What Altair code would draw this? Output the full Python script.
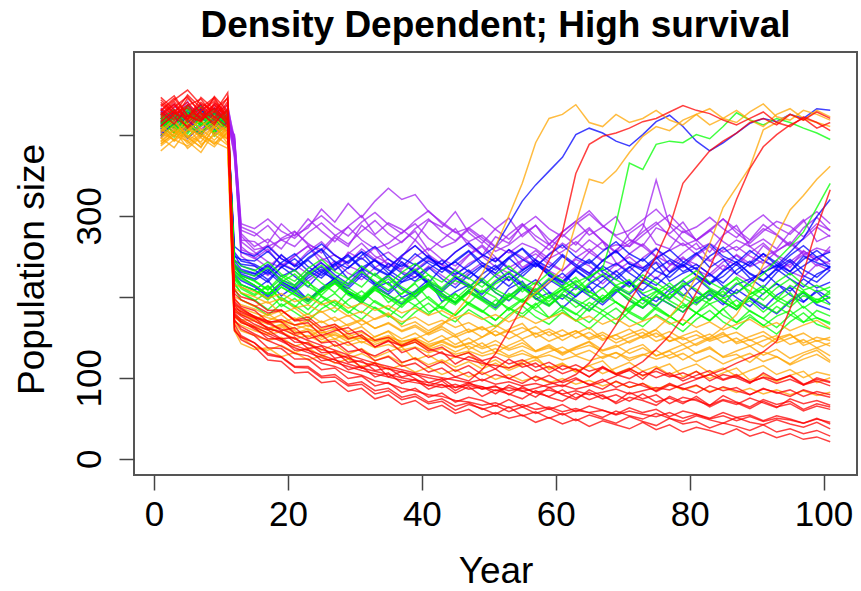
import altair as alt
import pandas as pd

FONT = "Liberation Sans, Arial, Helvetica, sans-serif"

# Sampled years (the drop happens between year 11 and 12; purple one year later)
YEARS = [1, 3, 5, 7, 9, 11, 12, 13] + list(range(15, 102, 2))

# ---------------- purple runs ----------------
P1 = [415, 428, 405, 420, 432, 410, 392, 262,
      248, 236, 251, 240, 228, 245, 252, 238, 231, 247,
      255, 242, 233, 246, 239, 226, 241, 250, 237, 229,
      244, 253, 240, 232, 246, 238, 225, 240, 249, 236,
      243, 231, 247, 240, 228, 243, 251, 237, 245, 233,
      240, 252, 238, 244]
P2 = [402, 418, 437, 425, 411, 426, 385, 270,
      268, 255, 272, 281, 264, 258, 275, 286, 270, 259,
      266, 279, 290, 272, 261, 268, 283, 270, 256, 264,
      277, 288, 271, 260, 273, 285, 268, 254, 266, 280,
      292, 275, 263, 270, 282, 268, 257, 269, 284, 276,
      262, 271, 286, 274]
P3 = [420, 409, 431, 415, 438, 418, 398, 275,
      258, 262, 270, 276, 285, 308, 292, 315, 298, 318,
      334, 320, 326, 305, 292, 280, 268, 276, 262, 254,
      266, 259, 247, 256, 268, 255, 244, 258, 270, 262,
      249, 257, 266, 252, 244, 258, 270, 262, 249, 257,
      266, 252, 260, 255]
P4 = [396, 414, 422, 407, 419, 430, 380, 250,
      238, 226, 241, 233, 219, 232, 244, 229, 221, 236,
      247, 231, 224, 238, 226, 215, 230, 242, 228, 220,
      234, 246, 232, 223, 237, 229, 216, 231, 243, 235,
      222, 238, 249, 233, 225, 239, 228, 218, 234, 245,
      231, 224, 240, 232]
P5 = [428, 416, 403, 426, 414, 421, 395, 282,
      275, 288, 270, 262, 279, 291, 276, 265, 281, 294,
      278, 267, 284, 296, 280, 269, 285, 273, 261, 277,
      290, 275, 264, 280, 293, 306, 288, 274, 262, 276,
      289, 301, 284, 270, 283, 296, 279, 266, 281, 293,
      287, 274, 290, 282]
P6 = [410, 435, 421, 398, 427, 412, 388, 258,
      252, 264, 247, 239, 256, 268, 251, 242, 259, 246,
      235, 250, 263, 248, 240, 255, 267, 252, 244, 258,
      249, 237, 253, 266, 255, 270, 258, 264, 262, 285,
      344, 288, 270, 258, 266, 255, 262, 250, 241, 256,
      268, 254, 245, 258]
P7 = [405, 419, 432, 416, 401, 424, 372, 268,
      255, 243, 236, 251, 262, 248, 237, 253, 266, 250,
      241, 234, 249, 260, 246, 238, 252, 264, 249, 236,
      245, 257, 243, 232, 248, 259, 245, 238, 253, 265,
      250, 241, 236, 251, 262, 247, 239, 254, 266, 251,
      243, 256, 248, 240]
P8 = [418, 407, 425, 436, 420, 408, 400, 290,
      284, 296, 281, 272, 288, 300, 286, 275, 292, 304,
      289, 278, 294, 306, 290, 279, 285, 297, 283, 271,
      287, 299, 284, 274, 290, 302, 287, 276, 282, 295,
      308, 291, 279, 286, 298, 284, 273, 289, 301, 286,
      277, 293, 305, 290]
P9 = [433, 419, 441, 410, 425, 437, 390, 278,
      262, 271, 259, 280, 266, 254, 273, 262, 288, 275,
      259, 268, 281, 257, 270, 284, 263, 251, 274, 266,
      289, 270, 258, 277, 264, 283, 269, 255, 278, 290,
      265, 259, 281, 270, 255, 276, 288, 262, 271, 259,
      280, 295, 268, 276]
P10 = [399, 412, 406, 427, 401, 415, 376, 255,
       247, 259, 238, 250, 263, 241, 232, 255, 246, 261,
       237, 249, 270, 252, 240, 233, 251, 262, 244, 258,
       236, 247, 265, 250, 238, 255, 268, 242, 231, 248,
       260, 239, 254, 266, 245, 233, 252, 241, 263, 250,
       236, 257, 244, 262]
P11 = [424, 438, 415, 429, 412, 433, 396, 286,
       279, 266, 290, 275, 296, 281, 268, 287, 300, 277,
       291, 283, 270, 294, 286, 305, 279, 266, 284, 297,
       274, 288, 265, 280, 293, 276, 286, 299, 271, 263,
       285, 278, 292, 269, 281, 296, 283, 270, 289, 277,
       264, 285, 298, 281]

# ---------------- blue runs ----------------
B1 = [412, 425, 408, 431, 417, 404, 238, 230,
      226, 238, 221, 214, 230, 242, 227, 216, 233, 245,
      229, 218, 224, 236, 222, 211, 227, 239, 225, 213,
      229, 241, 226, 217, 232, 220, 210, 225, 237, 223,
      214, 229, 240, 226, 215, 231, 243, 228, 219, 234,
      222, 212, 228, 236]
B2 = [398, 417, 429, 411, 422, 415, 250, 246,
      244, 256, 240, 232, 248, 259, 243, 235, 251, 262,
      246, 237, 253, 241, 230, 245, 257, 242, 233, 249,
      260, 245, 236, 252, 240, 229, 244, 256, 241, 232,
      247, 258, 243, 234, 250, 261, 246, 238, 253, 242,
      231, 246, 257, 244]
B3 = [421, 409, 436, 418, 426, 411, 232, 224,
      214, 202, 218, 209, 196, 211, 222, 207, 198, 213,
      225, 210, 200, 215, 204, 192, 208, 220, 205, 195,
      210, 221, 206, 197, 212, 201, 190, 205, 217, 203,
      194, 209, 220, 206, 196, 211, 199, 188, 204, 216,
      202, 193, 208, 198]
B4 = [407, 420, 413, 398, 428, 419, 252, 238,
      233, 221, 236, 247, 232, 223, 239, 250, 235, 226,
      241, 229, 219, 234, 245, 231, 222, 237, 248, 234,
      225, 240, 228, 218, 233, 244, 230, 221, 236, 247,
      232, 224, 239, 227, 217, 232, 243, 229, 220, 235,
      246, 233, 224, 238]
B5 = [416, 403, 424, 432, 409, 421, 228, 220,
      212, 200, 215, 205, 194, 209, 218, 204, 196, 211,
      202, 191, 206, 216, 201, 193, 207, 197, 186, 201,
      212, 198, 189, 203, 194, 183, 198, 209, 195, 186,
      200, 191, 181, 196, 207, 193, 184, 199, 189, 179,
      194, 205, 190, 184]
B6 = [426, 412, 405, 419, 433, 417, 262, 255,
      250, 262, 247, 238, 253, 265, 251, 241, 256, 244,
      236, 251, 263, 248, 240, 255, 266, 252, 243, 258,
      246, 237, 252, 264, 249, 241, 256, 268, 253, 244,
      259, 247, 238, 253, 265, 250, 242, 257, 245, 236,
      251, 263, 249, 255]
B7 = [409, 427, 418, 401, 414, 430, 240, 226,
      220, 231, 216, 207, 223, 234, 219, 210, 226, 214,
      203, 218, 230, 215, 206, 221, 233, 218, 209, 225,
      213, 202, 217, 229, 214, 205, 220, 232, 217, 208,
      224, 212, 201, 216, 228, 213, 204, 219, 231, 216,
      207, 222, 211, 218]
B8 = [400, 415, 427, 422, 406, 413, 245, 240,
      238, 228, 242, 253, 237, 226, 241, 252, 236, 245,
      233, 222, 238, 249, 234, 243, 231, 221, 236, 248,
      233, 242, 230, 219, 235, 246, 232, 241, 229, 218,
      234, 245, 231, 240, 228, 217, 233, 244, 230, 239,
      227, 238, 249, 236]
B9 = [430, 414, 422, 437, 408, 426, 244, 234,
      229, 218, 237, 225, 212, 230, 241, 222, 234, 215,
      227, 243, 229, 217, 236, 224, 211, 228, 239, 220,
      232, 245, 226, 214, 233, 221, 238, 227, 213, 231,
      242, 219, 229, 236, 216, 225, 240, 223, 211, 230,
      244, 226, 218, 233]
B10 = [403, 418, 395, 411, 424, 407, 226, 215,
       208, 220, 201, 213, 196, 209, 223, 205, 192, 211,
       218, 199, 207, 221, 194, 206, 215, 200, 189, 210,
       219, 197, 205, 186, 201, 213, 193, 207, 219, 196,
       188, 204, 214, 192, 203, 190, 209, 198, 185, 202,
       212, 194, 206, 191]
B11 = [419, 431, 410, 402, 427, 414, 255, 244,
       240, 231, 252, 237, 246, 258, 233, 244, 255, 236,
       227, 248, 239, 251, 234, 243, 256, 238, 229, 247,
       259, 241, 232, 250, 237, 226, 245, 257, 240, 235,
       249, 230, 242, 254, 236, 247, 228, 241, 253, 239,
       231, 250, 242, 236]
B_ESC1 = [407, 422, 415, 430, 418, 409, 240, 232,
          228, 240, 225, 233, 245, 230, 222, 236, 248, 234,
          226, 240, 231, 244, 236, 228, 238, 250, 262, 290,
          318, 338, 355, 372, 400, 408, 402, 392, 386, 400,
          416, 424, 410, 392, 380, 390, 402, 414, 420, 416,
          425, 420, 432, 430]
B_ESC2 = [413, 427, 405, 419, 432, 411, 236, 228,
          222, 234, 219, 210, 226, 237, 222, 213, 229, 217,
          206, 221, 232, 218, 209, 224, 214, 203, 218, 229,
          215, 206, 221, 211, 200, 215, 226, 212, 203, 218,
          208, 197, 212, 223, 209, 200, 215, 222, 230, 238,
          255, 272, 299, 320]

# ---------------- green runs ----------------
G1 = [413, 426, 404, 419, 431, 416, 228, 215,
      208, 196, 212, 203, 191, 206, 217, 202, 193, 209,
      198, 187, 203, 214, 199, 190, 205, 195, 184, 200,
      211, 197, 188, 203, 193, 182, 198, 209, 195, 186,
      201, 191, 181, 197, 208, 194, 185, 200, 190, 180,
      196, 207, 193, 199]
G2 = [405, 418, 433, 412, 424, 409, 240, 232,
      225, 236, 221, 212, 228, 239, 224, 215, 231, 219,
      208, 223, 234, 220, 211, 226, 216, 205, 220, 231,
      217, 208, 223, 213, 202, 217, 228, 214, 205, 220,
      210, 199, 214, 225, 211, 202, 217, 207, 196, 211,
      222, 208, 214, 205]
G3 = [424, 410, 397, 415, 428, 420, 215, 205,
      196, 184, 199, 189, 178, 193, 204, 190, 180, 195,
      185, 174, 189, 200, 186, 177, 192, 182, 171, 186,
      197, 183, 174, 189, 179, 168, 183, 194, 180, 171,
      186, 176, 165, 180, 191, 177, 168, 183, 173, 162,
      177, 188, 174, 168]
G4 = [417, 402, 420, 435, 411, 425, 232, 224,
      214, 203, 218, 228, 213, 202, 217, 207, 196, 211,
      222, 208, 199, 214, 204, 193, 208, 219, 205, 196,
      211, 201, 190, 205, 216, 202, 193, 208, 198, 187,
      202, 213, 199, 190, 205, 195, 184, 199, 210, 196,
      187, 202, 192, 200]
G5 = [408, 421, 414, 399, 426, 413, 222, 210,
      201, 213, 197, 187, 203, 192, 181, 196, 207, 193,
      184, 199, 189, 178, 193, 204, 190, 181, 196, 186,
      175, 190, 201, 187, 178, 193, 183, 172, 187, 198,
      184, 175, 190, 180, 170, 185, 196, 182, 173, 188,
      178, 168, 183, 176]
G6 = [419, 431, 407, 416, 402, 421, 245, 238,
      232, 243, 228, 219, 235, 246, 231, 222, 238, 226,
      215, 230, 241, 227, 218, 233, 223, 212, 227, 238,
      224, 215, 230, 220, 209, 224, 235, 221, 212, 227,
      217, 206, 221, 232, 218, 209, 224, 214, 203, 218,
      229, 215, 206, 212]
G7 = [411, 397, 418, 425, 409, 430, 210, 196,
      188, 177, 191, 181, 170, 185, 195, 182, 172, 187,
      177, 166, 181, 192, 178, 169, 184, 174, 163, 178,
      189, 175, 166, 181, 171, 160, 175, 186, 172, 163,
      178, 168, 157, 172, 183, 169, 160, 175, 165, 154,
      169, 180, 166, 160]
G8 = [426, 413, 401, 422, 418, 407, 236, 226,
      219, 208, 222, 233, 217, 206, 221, 211, 200, 215,
      226, 212, 203, 218, 208, 197, 212, 223, 209, 200,
      215, 205, 194, 209, 220, 206, 197, 212, 202, 191,
      206, 217, 203, 194, 209, 199, 188, 203, 214, 200,
      191, 206, 196, 204]
G9 = [409, 423, 436, 417, 404, 419, 226, 212,
      203, 214, 195, 206, 219, 200, 188, 207, 198, 212,
      193, 204, 216, 197, 185, 203, 192, 208, 199, 183,
      196, 210, 190, 201, 187, 198, 211, 193, 182, 199,
      189, 204, 192, 180, 197, 207, 188, 195, 181, 194,
      205, 186, 197, 190]
G10 = [398, 412, 427, 403, 416, 431, 238, 226,
       220, 209, 226, 214, 231, 217, 205, 222, 212, 229,
       215, 203, 218, 227, 208, 220, 213, 199, 216, 225,
       206, 218, 201, 213, 224, 207, 196, 214, 221, 204,
       211, 198, 217, 209, 195, 212, 222, 203, 210, 197,
       214, 205, 193, 208]
G11 = [421, 407, 415, 429, 398, 412, 218, 204,
       195, 206, 188, 198, 184, 201, 192, 180, 194, 186,
       175, 190, 199, 181, 188, 177, 193, 183, 171, 186,
       179, 192, 174, 184, 170, 187, 178, 166, 182, 173,
       188, 176, 165, 180, 171, 185, 168, 178, 164, 176,
       183, 169, 174, 166]
G_ESC1 = [416, 402, 427, 411, 420, 408, 222, 215,
          208, 198, 212, 202, 194, 207, 216, 203, 195, 208,
          199, 190, 204, 213, 200, 192, 205, 196, 188, 202,
          193, 205, 198, 210, 218, 225, 235, 290, 365, 357,
          388, 392, 390, 400, 395, 410, 427, 418, 412, 420,
          415, 408, 402, 394]
G_ESC2 = [420, 408, 431, 415, 403, 424, 230, 222,
          214, 203, 217, 207, 196, 210, 220, 206, 198, 212,
          202, 193, 207, 216, 203, 194, 208, 198, 190, 204,
          195, 186, 200, 209, 196, 188, 202, 193, 184, 198,
          207, 195, 186, 200, 191, 198, 205, 215, 228, 245,
          262, 280, 310, 340]

# ---------------- orange runs ----------------
O1 = [395, 408, 389, 401, 414, 398, 210, 205,
      200, 192, 198, 186, 190, 181, 187, 176, 182, 172,
      178, 169, 175, 165, 171, 162, 168, 159, 165, 156,
      162, 154, 160, 151, 158, 149, 156, 147, 154, 160,
      150, 157, 147, 153, 145, 151, 156, 146, 152, 143,
      149, 155, 145, 150]
O2 = [410, 392, 405, 418, 400, 387, 188, 182,
      176, 170, 178, 165, 171, 160, 166, 157, 163, 150,
      158, 148, 155, 144, 152, 141, 149, 138, 146, 136,
      143, 133, 141, 131, 138, 145, 134, 140, 130, 137,
      127, 134, 141, 130, 136, 126, 133, 139, 128, 135,
      124, 131, 137, 127]
O3 = [388, 402, 396, 385, 409, 394, 162, 150,
      138, 134, 140, 131, 137, 127, 133, 124, 130, 121,
      127, 118, 125, 116, 122, 113, 120, 111, 118, 109,
      116, 122, 112, 118, 108, 115, 105, 112, 119, 108,
      114, 104, 111, 117, 106, 112, 102, 109, 115, 104,
      110, 100, 107, 103]
O4 = [403, 416, 399, 391, 412, 405, 196, 190,
      185, 177, 183, 172, 179, 168, 175, 164, 171, 161,
      168, 158, 165, 155, 163, 153, 160, 150, 158, 148,
      156, 163, 152, 159, 149, 156, 146, 153, 160, 149,
      155, 145, 152, 158, 147, 154, 144, 151, 157, 146,
      153, 143, 150, 146]
O5 = [396, 384, 407, 399, 389, 402, 175, 168,
      162, 155, 163, 152, 158, 147, 154, 144, 150, 141,
      147, 138, 144, 135, 141, 132, 139, 130, 136, 127,
      134, 125, 132, 138, 128, 134, 124, 131, 121, 128,
      134, 124, 130, 120, 127, 117, 124, 130, 120, 126,
      116, 123, 129, 119]
O6 = [412, 398, 421, 407, 393, 410, 215, 212,
      206, 198, 204, 194, 200, 190, 196, 186, 192, 183,
      189, 180, 186, 177, 183, 174, 180, 172, 178, 169,
      176, 167, 174, 180, 170, 176, 166, 173, 163, 170,
      176, 166, 172, 162, 169, 159, 166, 172, 162, 168,
      158, 165, 171, 161]
O7 = [380, 394, 386, 399, 391, 383, 158, 142,
      135, 137, 126, 131, 122, 127, 118, 123, 114, 119,
      110, 116, 107, 113, 104, 110, 101, 107, 98, 104,
      96, 101, 94, 99, 92, 97, 90, 95, 88, 93,
      86, 92, 85, 90, 83, 88, 82, 87, 80, 85,
      79, 84, 78, 82]
O8 = [405, 419, 397, 410, 423, 401, 182, 178,
      172, 179, 168, 174, 163, 170, 160, 166, 172, 161,
      167, 157, 163, 153, 160, 150, 157, 163, 152, 158,
      148, 155, 145, 152, 158, 147, 153, 143, 150, 156,
      145, 151, 141, 148, 154, 143, 149, 139, 146, 152,
      141, 147, 137, 143]
O9 = [392, 406, 383, 397, 411, 389, 178, 172,
      170, 161, 166, 158, 150, 159, 148, 155, 143, 151,
      157, 141, 148, 137, 146, 152, 135, 143, 131, 140,
      147, 133, 139, 128, 137, 144, 130, 124, 135, 141,
      127, 133, 122, 131, 138, 125, 129, 119, 132, 126,
      117, 128, 134, 121]
O10 = [407, 393, 415, 402, 388, 409, 200, 196,
       188, 194, 179, 186, 174, 182, 170, 177, 165, 173,
       180, 163, 169, 158, 167, 174, 156, 162, 152, 160,
       167, 150, 157, 146, 155, 162, 148, 153, 143, 151,
       159, 145, 150, 140, 148, 156, 142, 147, 138, 149,
       154, 140, 146, 139]
O11 = [386, 399, 392, 378, 403, 395, 168, 158,
       152, 146, 150, 139, 144, 134, 141, 129, 136, 125,
       132, 138, 122, 128, 118, 126, 131, 115, 122, 112,
       120, 126, 110, 117, 107, 115, 121, 105, 112, 102,
       111, 117, 101, 108, 99, 106, 112, 97, 104, 95,
       103, 108, 94, 100]
O_ESC1 = [398, 411, 392, 405, 417, 401, 190, 186,
          180, 174, 170, 165, 160, 156, 152, 150, 148, 146,
          150, 145, 148, 155, 165, 180, 200, 228, 262, 300,
          340, 390, 420, 425, 437, 415, 410, 425, 415, 420,
          430, 418, 412, 425, 432, 420, 415, 428, 438, 422,
          418, 430, 425, 418]
O_ESC2 = [389, 401, 412, 396, 385, 404, 176, 170,
          164, 159, 165, 155, 160, 150, 156, 147, 152, 144,
          149, 141, 146, 139, 144, 137, 142, 150, 162, 175,
          190, 205, 218, 235, 290, 345, 340, 355, 378, 398,
          410, 405, 418, 425, 412, 420, 430, 418, 410, 425,
          432, 420, 415, 410]
O_ESC3 = [402, 394, 410, 388, 399, 413, 184, 178,
          172, 166, 170, 160, 165, 155, 160, 151, 156, 147,
          152, 144, 149, 141, 146, 138, 143, 136, 141, 134,
          139, 132, 137, 130, 135, 140, 133, 138, 145, 152,
          160, 175, 195, 225, 265, 310, 335, 360, 406, 415,
          425, 418, 430, 422]
O_ESC4 = [391, 405, 398, 384, 410, 396, 170, 165,
          158, 153, 157, 148, 152, 144, 148, 140, 145, 137,
          141, 134, 138, 131, 136, 129, 133, 127, 131, 125,
          130, 124, 128, 122, 127, 121, 126, 131, 124, 129,
          123, 128, 135, 142, 150, 162, 178, 205, 240, 275,
          307, 325, 345, 361]

# ---------------- red runs ----------------
R1 = [425, 441, 418, 433, 446, 420, 182, 176,
      166, 159, 148, 150, 136, 139, 124, 127, 112, 118,
      101, 108, 99, 90, 96, 84, 93, 89, 80, 91,
      84, 76, 88, 79, 73, 85, 77, 70, 82, 74,
      79, 68, 76, 72, 66, 78, 70, 64, 73, 67,
      71, 61, 68, 64]
R2 = [432, 418, 445, 427, 412, 438, 208, 200,
      195, 183, 184, 170, 172, 158, 163, 148, 153, 138,
      146, 131, 137, 125, 132, 117, 126, 120, 111, 123,
      113, 118, 106, 115, 110, 101, 114, 104, 109, 98,
      112, 103, 99, 108, 96, 104, 100, 93, 106, 97,
      102, 91, 100, 95]
R3 = [415, 430, 408, 424, 437, 411, 166, 152,
      143, 128, 125, 113, 112, 100, 101, 90, 92, 80,
      84, 73, 77, 68, 71, 60, 67, 62, 55, 64,
      53, 58, 50, 56, 47, 54, 49, 44, 52, 46,
      41, 50, 43, 46, 38, 44, 40, 35, 42, 33,
      37, 31, 35, 28]
R4 = [438, 422, 410, 429, 441, 416, 190, 180,
      174, 160, 157, 144, 143, 131, 132, 119, 121, 109,
      112, 101, 105, 94, 99, 88, 94, 86, 90, 79,
      89, 81, 77, 85, 75, 82, 74, 79, 71, 80,
      70, 75, 68, 77, 66, 73, 69, 62, 71, 64,
      68, 59, 65, 61]
R5 = [420, 434, 447, 426, 415, 431, 160, 147,
      138, 122, 120, 106, 107, 94, 96, 83, 87, 74,
      79, 67, 72, 61, 66, 56, 61, 51, 57, 50,
      54, 45, 51, 43, 49, 40, 47, 42, 37, 45,
      36, 42, 33, 39, 35, 30, 37, 28, 33, 26,
      31, 24, 27, 21]
R6 = [428, 413, 436, 444, 422, 409, 176, 168,
      162, 148, 148, 134, 135, 121, 123, 110, 114, 101,
      106, 93, 98, 86, 92, 81, 89, 77, 85, 80,
      74, 84, 76, 71, 81, 73, 79, 68, 76, 72,
      66, 77, 70, 74, 64, 72, 67, 75, 69, 63,
      74, 68, 72, 66]
R7 = [417, 429, 440, 421, 433, 425, 198, 188,
      183, 169, 169, 155, 157, 143, 145, 132, 135, 121,
      126, 114, 118, 107, 112, 101, 107, 96, 104, 99,
      93, 102, 95, 89, 98, 92, 86, 96, 88, 93,
      83, 91, 87, 81, 90, 84, 88, 79, 86, 82,
      77, 85, 80, 76]
R8 = [443, 427, 419, 438, 430, 445, 172, 160,
      152, 137, 136, 123, 123, 110, 112, 99, 102, 90,
      94, 82, 87, 76, 81, 70, 76, 72, 65, 73,
      64, 69, 61, 67, 58, 65, 60, 55, 63, 57,
      61, 52, 59, 55, 50, 57, 51, 54, 47, 53,
      49, 44, 50, 43]
R9 = [410, 424, 437, 418, 429, 414, 186, 182,
      174, 168, 172, 165, 168, 152, 158, 162, 150, 138,
      145, 140, 147, 136, 130, 126, 122, 118, 115, 112,
      118, 108, 114, 105, 111, 101, 112, 104, 99, 108,
      100, 106, 96, 103, 109, 98, 104, 94, 101, 97,
      103, 92, 98, 94]
R10 = [435, 448, 424, 416, 439, 428, 158, 150,
       143, 130, 126, 114, 114, 102, 104, 92, 95, 84,
       87, 76, 80, 70, 74, 65, 69, 61, 66, 58,
       64, 56, 62, 54, 60, 57, 51, 59, 53, 49,
       56, 50, 46, 53, 48, 44, 51, 45, 42, 48,
       43, 39, 45, 37]
R11 = [446, 431, 422, 440, 427, 452, 194, 186,
       175, 170, 158, 162, 148, 153, 139, 144, 132, 127,
       135, 119, 124, 113, 120, 108, 115, 104, 111, 99,
       107, 96, 103, 94, 100, 91, 98, 88, 95, 90,
       84, 93, 86, 91, 82, 89, 84, 79, 87, 81,
       85, 77, 83, 79]
R12 = [411, 426, 449, 433, 418, 441, 170, 163,
       154, 146, 139, 130, 127, 118, 114, 107, 103, 96,
       93, 87, 84, 79, 77, 72, 70, 66, 69, 63,
       67, 61, 64, 58, 62, 57, 60, 54, 59, 55,
       52, 57, 50, 55, 49, 53, 47, 52, 46, 50,
       48, 44, 49, 45]
R13 = [429, 443, 455, 437, 421, 446, 204, 196,
       189, 180, 183, 171, 175, 162, 166, 154, 158, 146,
       150, 139, 144, 133, 138, 126, 131, 121, 126, 117,
       122, 113, 119, 110, 116, 108, 113, 105, 111, 103,
       108, 101, 106, 99, 104, 97, 102, 95, 100, 93,
       98, 91, 96, 90]
R_ESC1 = [430, 445, 423, 417, 436, 426, 185, 178,
          170, 162, 155, 148, 141, 135, 130, 124, 119, 115,
          111, 107, 104, 100, 97, 101, 96, 110, 130, 158,
          188, 215, 245, 280, 352, 388, 398, 402, 408, 416,
          420, 428, 436, 430, 426, 418, 412, 420, 428, 415,
          410, 422, 415, 405]
R_ESC2 = [422, 437, 415, 429, 444, 418, 178, 170,
          160, 152, 145, 137, 131, 125, 119, 114, 109, 105,
          101, 97, 94, 91, 88, 92, 86, 89, 84, 88,
          83, 87, 92, 96, 104, 118, 140, 165, 195, 220,
          250, 286, 340, 360, 380, 392, 402, 415, 420, 412,
          425, 418, 428, 420]
R_ESC3 = [440, 426, 433, 419, 447, 429, 192, 184,
          176, 167, 160, 153, 146, 140, 134, 128, 123, 118,
          114, 110, 106, 103, 100, 97, 94, 98, 92, 95,
          90, 93, 88, 91, 86, 90, 95, 102, 110, 120,
          135, 152, 175, 205, 235, 275, 320, 358, 385, 400,
          412, 420, 408, 415]
R_ESC4 = [424, 438, 419, 446, 431, 417, 180, 172,
          163, 155, 147, 140, 134, 128, 122, 117, 112, 108,
          104, 100, 97, 94, 91, 88, 91, 86, 89, 84,
          87, 82, 85, 80, 84, 79, 82, 86, 80, 84,
          88, 85, 92, 98, 104, 110, 118, 125, 132, 145,
          185, 230, 285, 332]

GROUPS = [
    ("purple", "#A020F0", [P1, P2, P3, P4, P5, P6, P7, P8, P9, P10, P11]),
    ("blue", "#0000FF", [B1, B2, B3, B4, B5, B6, B7, B8, B9, B10, B11,
                         B_ESC1, B_ESC2]),
    ("green", "#00FF00", [G1, G2, G3, G4, G5, G6, G7, G8, G9, G10, G11,
                          G_ESC1, G_ESC2]),
    ("orange", "#FFA500", [O1, O2, O3, O4, O5, O6, O7, O8, O9, O10, O11,
                           O_ESC1, O_ESC2, O_ESC3, O_ESC4]),
    ("red", "#FF0000", [R1, R2, R3, R4, R5, R6, R7, R8, R9, R10, R11, R12,
                        R13, R_ESC1, R_ESC2, R_ESC3, R_ESC4]),
]

X_TICKS = [0, 20, 40, 60, 80, 100]
Y_TICKS = [0, 100, 200, 300, 400]

x_scale = alt.Scale(domain=[-3, 105], nice=False, zero=False)
y_scale = alt.Scale(domain=[-20, 502], nice=False, zero=False)

x_axis = alt.Axis(
    values=X_TICKS, title="Year", grid=False, domain=False,
    tickSize=15, tickWidth=1.5, tickColor="#444444",
    labelFont=FONT, labelFontSize=35, labelColor="#000000",
    labelPadding=35, labelBaseline="alphabetic", labelFlush=False,
    labelOverlap=False, format="d",
    titleFont=FONT, titleFontSize=37, titleFontWeight="normal",
    titleColor="#000000", titleBaseline="alphabetic", titleAlign="center",
    titleX=361.5, titleY=107,
)
y_axis = alt.Axis(
    values=Y_TICKS, title="Population size", grid=False, domain=False,
    tickSize=15, tickWidth=1.5, tickColor="#444444",
    labelFont=FONT, labelFontSize=35, labelColor="#000000",
    labelAngle=270, labelAlign="center", labelBaseline="alphabetic",
    labelPadding=19, labelOverlap=False, format="d",
    labelExpr="(datum.value == 200 || datum.value == 400) ? '' : datum.label",
    titleFont=FONT, titleFontSize=37, titleFontWeight="normal",
    titleColor="#000000", titleAngle=270, titleAlign="center",
    titleBaseline="alphabetic", titleX=-91, titleY=217,
)

layers = []
for gi, (name, colour, lines) in enumerate(GROUPS):
    rows = []
    for li, line in enumerate(lines):
        assert len(line) == len(YEARS), (name, li, len(line))
        for yr, val in zip(YEARS, line):
            rows.append({"year": yr, "pop": val, "run": f"{name}_{li}"})
    df = pd.DataFrame(rows)
    layers.append(
        alt.Chart(df).mark_line(
            color=colour, strokeWidth=1.5, opacity=0.75, clip=True
        ).encode(
            x=alt.X("year:Q", scale=x_scale, axis=x_axis),
            y=alt.Y("pop:Q", scale=y_scale, axis=y_axis),
            detail="run:N",
        )
    )

chart = alt.layer(*layers).properties(
    width=723,
    height=423,
    autosize="none",
    padding={"left": 134, "top": 52, "right": 4, "bottom": 116},
    title=alt.TitleParams(
        text="Density Dependent; High survival",
        font=FONT, fontSize=37, fontWeight="bold", color="#000000",
        anchor="middle", offset=7,
    ),
).configure_view(stroke="#555555", strokeWidth=2)

chart.save("out.html", embed_options={"renderer": "svg", "actions": False})
